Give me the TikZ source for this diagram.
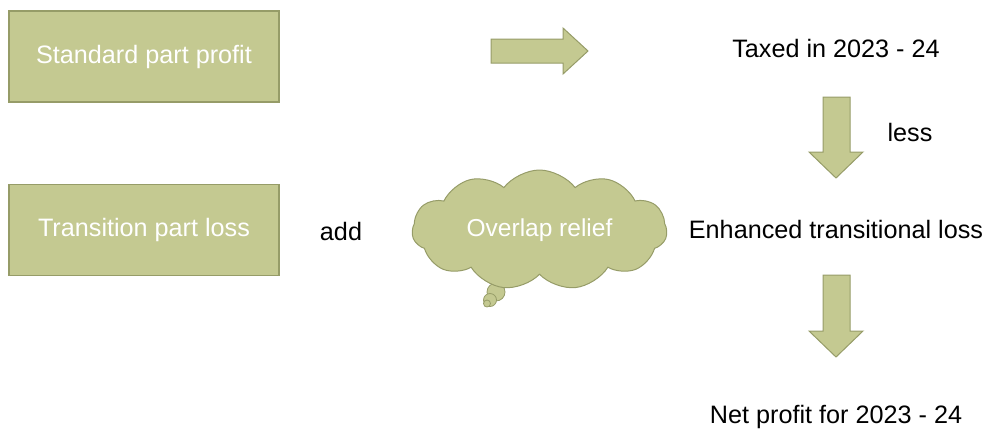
\documentclass[tikz,border=0pt]{standalone}
\usepackage{fontspec}
\setmainfont{Liberation Sans}
\usetikzlibrary{shapes.symbols}
\definecolor{olivefill}{RGB}{196,201,145}
\definecolor{oliveline}{RGB}{150,156,104}
\tikzset{
  box/.style={draw=oliveline, line width=1.2pt, fill=olivefill, minimum width=270pt, minimum height=91pt, inner sep=0pt, text=white, font=\fontsize{25.2}{30}\selectfont},
  lbl/.style={inner sep=0pt, text=black, font=\fontsize{25.2}{30}\selectfont},
  blockarrow/.style={draw=oliveline, line width=1pt, fill=olivefill, line join=miter},
  cloudshape/.style={cloud, cloud puffs=11, cloud puff arc=105, cloud ignores aspect, draw=oliveline, line width=1pt, fill=olivefill, minimum width=255pt, minimum height=120pt, inner sep=0pt, text=white, font=\fontsize{24.5}{29}\selectfont},
  bubble/.style={draw=oliveline, line width=0.8pt, fill=olivefill}
}
\begin{document}
\begin{tikzpicture}[x=1pt,y=-1pt]
\useasboundingbox (0,0) rectangle (987,432);
\node[box] (std) at (144,56.5) {Standard part profit};
\node[box] (trans) at (144,230) {Transition part loss};
\node[lbl] (add) at (341,231) {add};
% tail bubbles
\draw[bubble] (496,292) circle (9);
\draw[bubble] (490,300) circle (6.5);
\draw[bubble] (487,303.5) circle (3.5);
\node[cloudshape, shape border rotate=8] (cloud) at (539.5,230) {Overlap relief};
% right arrow
\filldraw[blockarrow] (491,39) -- (563,39) -- (563,28) -- (588,51) -- (563,74) -- (563,63) -- (491,63) -- cycle;
\node[lbl] (taxed) at (836,48) {Taxed in 2023 - 24};
% down arrow 1
\filldraw[blockarrow] (823,97) -- (850,97) -- (850,152) -- (863,152) -- (836,178) -- (809,152) -- (823,152) -- cycle;
\node[lbl] (less) at (910,132) {less};
\node[lbl] (enh) at (836,229) {Enhanced transitional loss};
% down arrow 2
\filldraw[blockarrow] (823,275) -- (850,275) -- (850,331) -- (863,331) -- (836,357) -- (809,331) -- (823,331) -- cycle;
\node[lbl] (net) at (836,417) {Net profit for 2023 - 24};
\end{tikzpicture}
\end{document}
